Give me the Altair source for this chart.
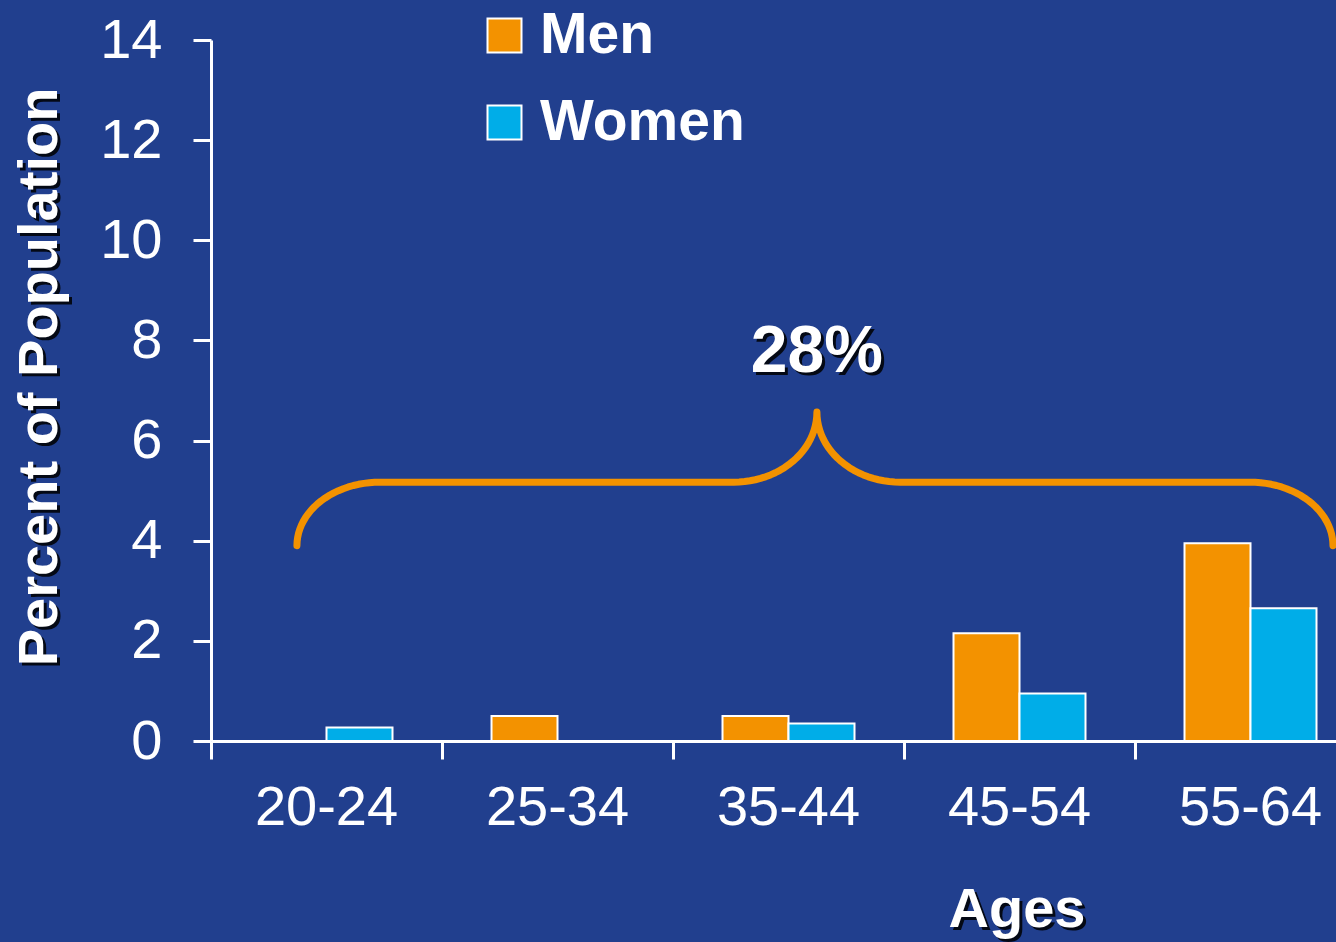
import math

import altair as alt
import pandas as pd

# ---- data -------------------------------------------------------------
ages = ["20-24", "25-34", "35-44", "45-54", "55-64"]
men = [None, 0.5, 0.5, 2.15, 3.95]      # percent of population
women = [0.27, None, 0.35, 0.95, 2.65]
groups = ["Men", "Women"]
y_ticks = [0, 2, 4, 6, 8, 10, 12, 14]
total_label = "28%"

# ---- style ------------------------------------------------------------
BG = "#213F8E"
ORANGE = "#F39200"
CYAN = "#00ADE8"
FONT = "Liberation Sans"
W, H = 1125, 701          # plot area
STEP = 231                # pixel width of one age band
X_RANGE = [0, STEP * len(ages)]
Y_DOMAIN = [0, 14]

rows = []
for a, m, w in zip(ages, men, women):
    if m is not None:
        rows.append({"age": a, "sex": "Men", "pct": m})
    if w is not None:
        rows.append({"age": a, "sex": "Women", "pct": w})
bars_df = pd.DataFrame(rows)


def brace(x0, x1, xm, y_end, y_bar, y_peak, r, n=24):
    """Horizontal curly brace (in band units / percent) pointing up at xm."""
    pts = []
    for k in range(n + 1):  # left hook
        t = k / n * math.pi / 2
        pts.append((x0 + r - r * math.cos(t), y_end + (y_bar - y_end) * math.sin(t)))
    for k in range(n + 1):  # rise to the tip
        t = k / n * math.pi / 2
        pts.append((xm - r + r * math.sin(t), y_peak - (y_peak - y_bar) * math.cos(t)))
    for k in range(n + 1):  # fall from the tip
        t = k / n * math.pi / 2
        pts.append((xm + r - r * math.cos(t), y_peak - (y_peak - y_bar) * math.sin(t)))
    for k in range(n + 1):  # right hook
        t = k / n * math.pi / 2
        pts.append((x1 - r + r * math.sin(t), y_bar - (y_bar - y_end) * (1 - math.cos(t))))
    return pd.DataFrame({"i": range(len(pts)), "bx": [p[0] for p in pts], "by": [p[1] for p in pts]})


brace_df = brace(x0=0.372, x1=4.857, xm=2.623, y_end=3.9, y_bar=5.17, y_peak=6.57, r=0.36)

y_axis = alt.Axis(
    values=y_ticks, title=None, grid=False,
    domainColor="white", domainWidth=3, tickColor="white", tickWidth=3, tickSize=18,
    labelColor="white", labelFont=FONT, labelFontSize=56, labelPadding=31,
)
y_scale = alt.Scale(domain=Y_DOMAIN, nice=False, zero=True)
bx_scale = alt.Scale(domain=[0, len(ages)], range=X_RANGE, nice=False, zero=False)

bars = alt.Chart(bars_df).mark_bar(stroke="white", strokeWidth=2).encode(
    x=alt.X(
        "age:N", sort=ages,
        scale=alt.Scale(domain=ages, range=X_RANGE, paddingInner=0, paddingOuter=0),
        axis=alt.Axis(
            title=None, bandPosition=0, labelAngle=0, labelOverlap=False,
            domainColor="white", domainWidth=3, tickColor="white", tickWidth=3, tickSize=18,
            labelColor="white", labelFont=FONT, labelFontSize=56, labelPadding=21,
            labelLimit=400,
        ),
    ),
    xOffset=alt.XOffset("sex:N", sort=groups,
                        scale=alt.Scale(domain=groups, paddingInner=0, paddingOuter=0.75)),
    y=alt.Y("pct:Q", scale=y_scale, axis=y_axis),
    color=alt.Color(
        "sex:N",
        scale=alt.Scale(domain=groups, range=[ORANGE, CYAN]),
        legend=alt.Legend(
            title=None, orient="none", legendX=265, legendY=-33, padding=0,
            symbolType="square", symbolSize=1156, symbolStrokeColor="white",
            symbolStrokeWidth=2, symbolOpacity=1,
            labelFont=FONT, labelFontSize=57, labelFontWeight="bold", labelColor="white",
            labelOffset=7, rowPadding=29, labelLimit=400,
        ),
    ),
)

brace_line = alt.Chart(brace_df).mark_line(
    color=ORANGE, strokeWidth=7, strokeCap="round", strokeJoin="round"
).encode(
    x=alt.X("bx:Q", scale=bx_scale, axis=None),
    y=alt.Y("by:Q", scale=y_scale, axis=y_axis),
    order="i:Q",
)

label_df = pd.DataFrame({"lx": [2.623], "ly": [7.37], "t": [total_label]})


def shadowed(chart_fn):
    return [chart_fn("black", 3, 0.85), chart_fn("white", 0, 1)]


def total_text(color, off, op):
    return alt.Chart(label_df).mark_text(
        font=FONT, fontSize=66, fontWeight="bold", color=color, opacity=op,
        align="center", baseline="alphabetic", dx=off, dy=off,
    ).encode(
        x=alt.X("lx:Q", scale=bx_scale, axis=None),
        y=alt.Y("ly:Q", scale=y_scale, axis=y_axis),
        text="t:N",
    )


def y_title(color, off, op):
    return alt.Chart(pd.DataFrame({"t": ["Percent of Population"]})).mark_text(
        font=FONT, fontSize=56, fontWeight="bold", color=color, opacity=op,
        align="center", baseline="alphabetic", angle=270,
    ).encode(x=alt.value(-154 + off), y=alt.value(337 + off), text="t:N")


def x_title(color, off, op):
    return alt.Chart(pd.DataFrame({"t": ["Ages"]})).mark_text(
        font=FONT, fontSize=56, fontWeight="bold", color=color, opacity=op,
        align="center", baseline="alphabetic",
    ).encode(x=alt.value(806 + off), y=alt.value(887 + off), text="t:N")


chart = alt.layer(
    bars, brace_line, *shadowed(total_text), *shadowed(y_title), *shadowed(x_title)
).resolve_scale(
    x="independent"
).properties(
    width=W, height=H,
    padding={"left": 211, "top": 40, "right": 0, "bottom": 201},
    autosize=alt.AutoSizeParams(type="none"),
    background=BG,
).configure_view(strokeWidth=0)

chart.save("out.html", embed_options={"renderer": "svg", "actions": False})
